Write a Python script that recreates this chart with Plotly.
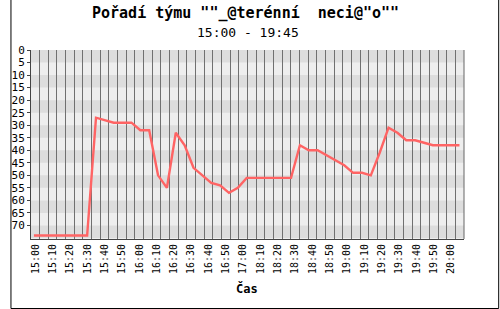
import plotly.graph_objects as go

# ---------------- data ----------------
rank = [74, 74, 74, 74, 74, 74, 74, 27, 28, 29,
        29, 29, 32, 32, 50, 55, 33, 38, 47, 50,
        53, 54, 57, 55, 51, 51, 51, 51, 51, 51,
        38, 40, 40, 42, 44, 46, 49, 49, 50, 41,
        31, 33, 36, 36, 37, 38, 38, 38, 38]

tick_labels = ["15:00", "15:10", "15:20", "15:30", "15:40", "15:50",
               "16:00", "16:10", "16:20", "16:30", "16:40", "16:50",
               "17:00", "18:10", "18:20", "18:30", "18:40", "18:50",
               "19:00", "19:10", "19:20", "19:30", "19:40", "19:50",
               "20:00"]

y_ticks = list(range(0, 75, 5))

title = 'Pořadí týmu ""_@terénní  neci@"o""'
subtitle = "15:00 - 19:45"
x_title = "Čas"

# ---------------- geometry ----------------
W, H = 500, 309
ML, MR, MT, MB = 21, 36, 50, 70
PW, PH = W - ML - MR, H - MT - MB
N_SLOTS = 50                    # category slots along x axis
X0, STEP = 0.34, 1.0237         # where the series sits on the slot scale
Y_MAX = 75.4

x_pos = [X0 + STEP * j for j in range(len(rank))]
tick_pos = [2 * k + 0.5 for k in range(len(tick_labels))]

MONO = "DejaVu Sans Mono"

fig = go.Figure()
fig.add_trace(go.Scatter(x=x_pos, y=rank, mode="lines",
                         line=dict(color="#ff6464", width=2.4),
                         hoverinfo="skip", showlegend=False))

shapes = []
# alternating horizontal bands
for i, v in enumerate(range(0, 75, 5)):
    if i % 2 == 0:
        shapes.append(dict(type="rect", xref="x", yref="y", layer="below",
                           x0=0, x1=N_SLOTS, y0=v, y1=min(v + 5, Y_MAX),
                           fillcolor="#dddddd", line=dict(width=0)))
# right plot border
shapes.append(dict(type="line", xref="paper", yref="paper", x0=1, x1=1,
                   y0=0, y1=1, line=dict(color="#666666", width=1)))


def px_x(px):
    return (px - ML) / PW


def px_y(py):
    return (H - MB - py) / PH


# outer frame (left, right, bottom)
fl, fr, fb, ft = px_x(0.5), px_x(W - 0.5), px_y(H - 0.5), px_y(0)
for (a, b, c, d) in [(fl, fb, fl, ft), (fr, fb, fr, ft), (fl, fb, fr, fb)]:
    shapes.append(dict(type="line", xref="paper", yref="paper",
                       x0=a, y0=b, x1=c, y1=d,
                       line=dict(color="#000000", width=1)))

annotations = [
    dict(text="<b>" + title + "</b>", xref="paper", yref="paper",
         x=px_x(240.5), y=px_y(13), showarrow=False, xanchor="center", yanchor="middle",
         font=dict(family=MONO, size=15, color="#000000")),
    dict(text=subtitle, xref="paper", yref="paper",
         x=px_x(242.5), y=px_y(33), showarrow=False, xanchor="center", yanchor="middle",
         font=dict(family=MONO, size=13, color="#000000")),
    dict(text="<b>" + x_title + "</b>", xref="paper", yref="paper",
         x=px_x(242), y=px_y(288), showarrow=False, xanchor="center", yanchor="middle",
         font=dict(family=MONO, size=12, color="#000000")),
]

fig.update_layout(
    width=W, height=H,
    margin=dict(l=ML, r=MR, t=MT, b=MB, pad=0),
    paper_bgcolor="#ffffff", plot_bgcolor="#eeeeee",
    shapes=shapes, annotations=annotations,
    xaxis=dict(range=[0, N_SLOTS], tickmode="array", tickvals=tick_pos,
               ticktext=tick_labels, tickangle=-90, ticks="", showgrid=False,
               zeroline=False, showline=True, linecolor="#444444", linewidth=1,
               tickfont=dict(family=MONO, size=10, color="#000000"),
               minor=dict(tickmode="array", tickvals=list(range(1, N_SLOTS)),
                          showgrid=True, gridcolor="#707070", gridwidth=1, ticks="")),
    yaxis=dict(range=[Y_MAX, 0], tickmode="array", tickvals=y_ticks,
               ticktext=[str(v) for v in y_ticks], ticks="outside", ticklen=3,
               tickcolor="#444444", showgrid=False, zeroline=False,
               showline=True, linecolor="#444444", linewidth=1,
               tickfont=dict(family=MONO, size=11, color="#000000")),
)

fig.write_html("out.html")
